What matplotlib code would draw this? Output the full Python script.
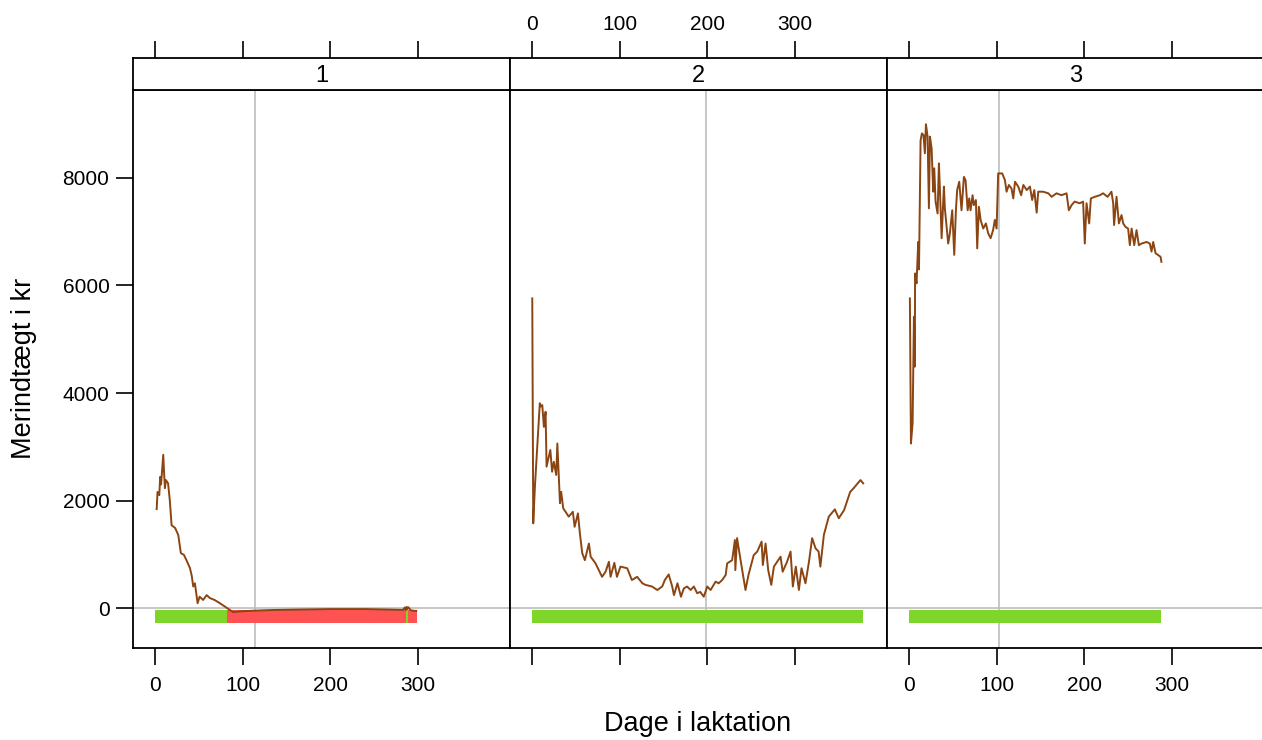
import matplotlib
matplotlib.use('Agg')
from matplotlib import pyplot as plt

plt.rcParams['font.family'] = ['Liberation Sans', 'DejaVu Sans']

# panel 1
days1 = [2, 3, 5, 6, 7, 9.5, 10.5, 11.4, 12.5, 15, 17, 19, 23, 26.6, 29.6, 33, 36, 40, 42,
         43.7, 45.6, 48.7, 51, 55, 59, 62.7, 68, 74, 80, 85.5, 89, 100, 120, 135, 160, 200,
         240, 270, 283, 285, 286, 287, 288, 289, 292, 298]
gain1 = [1840, 2160, 2100, 2440, 2300, 2850, 2500, 2230, 2380, 2320, 2000, 1540, 1490, 1360,
         1020, 990, 890, 740, 600, 400, 460, 90, 210, 150, 240, 185, 150, 90, 25, -37, -75,
         -60, -45, -37, -30, -20, -20, -30, -35, 10, -40, 20, -20, 15, -45, -55]

# panel 2
days2 = [0.4, 1.5, 3.4, 9, 10, 11.8, 13.7, 15.6, 16.7, 21, 23, 25, 27.7, 29, 32, 33.4, 35.7,
         42, 46.7, 48.7, 52.5, 54.7, 57.4, 60.4, 65, 67, 72.6, 80, 84, 87.8, 89.7, 94, 97,
         101, 108.7, 114, 120, 126, 129.6, 137, 143, 148.6, 151.6, 156, 160, 162, 166, 170,
         173.3, 177, 181, 184.7, 188.5, 192, 196, 200, 203.8, 209.5, 213, 217, 221, 222.7,
         228.4, 231.5, 232, 234, 238, 243.6, 247, 253, 257, 262, 263.4, 266.5, 269.5, 273,
         276, 283.6, 286, 291, 295, 297.6, 301, 304.5, 307.5, 312, 316, 319.6, 323.5, 327,
         329, 333, 338.6, 345.5, 350, 356, 363, 367, 374.7, 377.8]
gain2 = [5760, 1575, 2256, 3810, 3750, 3775, 3370, 3650, 2630, 2940, 2535, 2720, 2475, 3060,
         1950, 2160, 1855, 1700, 1790, 1510, 1760, 1390, 1020, 890, 1200, 955, 830, 580, 675,
         860, 580, 840, 580, 770, 740, 520, 580, 460, 430, 400, 335, 400, 520, 625, 400, 240,
         460, 210, 365, 400, 335, 400, 275, 300, 210, 400, 335, 490, 460, 520, 615, 830, 890,
         1265, 705, 1300, 890, 335, 615, 985, 1050, 1235, 800, 1200, 705, 430, 770, 955, 675,
         860, 1050, 400, 770, 335, 740, 460, 860, 1300, 1110, 1050, 770, 1360, 1700, 1835,
         1670, 1820, 2160, 2230, 2380, 2320]

# panel 3
days3 = [1.1, 2.3, 4.2, 5.7, 6.8, 7, 8.7, 10.6, 11.5, 13.3, 14.8, 16.6, 18.2, 19.4, 21.3,
         22.8, 24, 25.9, 27.7, 28.9, 30.4, 32.7, 34.2, 35.3, 37.3, 39.9, 41, 44.8, 46.7,
         49.4, 51.7, 53.6, 55, 57.4, 60, 62.7, 64.6, 67, 68.8, 70.3, 72.6, 74, 76.4, 77.9,
         79.8, 81.8, 84.8, 87.8, 90.4, 93.2, 96, 98, 100, 101.8, 106.4, 109.5, 111.4, 114,
         117, 119, 121, 124.7, 128, 130.5, 134.4, 138, 140.6, 143, 145.7, 147.5, 153, 159,
         162.7, 168.4, 174, 179.8, 182.4, 185.5, 189, 194.8, 198.7, 200.6, 202.6, 205.6,
         207.5, 212, 217.8, 221.5, 226.6, 231, 233, 234, 236.8, 239.5, 242.5, 244.4, 247,
         250, 252, 254, 257, 259.6, 262.3, 265.3, 271, 274.8, 276.7, 278.6, 281.3, 284.3,
         287, 288]
gain3 = [5760, 3060, 3435, 5420, 4490, 6225, 6040, 6810, 6300, 8700, 8830, 8800, 8460, 9000,
         8770, 7435, 8770, 8550, 7745, 8180, 7560, 7340, 8270, 7810, 6880, 7840, 7435, 6780,
         6970, 7400, 6570, 7400, 7775, 7930, 7400, 8020, 7960, 7400, 7620, 7400, 7680, 7495,
         7590, 6690, 7465, 7217, 7060, 7155, 6970, 6880, 7030, 7220, 7060, 8085, 8085, 7960,
         7745, 7870, 7805, 7620, 7930, 7840, 7680, 7870, 7775, 7840, 7590, 7775, 7355, 7745,
         7745, 7715, 7650, 7715, 7680, 7715, 7400, 7495, 7560, 7530, 7560, 6780, 7530, 7155,
         7620, 7650, 7680, 7715, 7650, 7745, 7530, 7125, 7650, 7155, 7310, 7155, 7090, 7060,
         6750, 7060, 6750, 7030, 6750, 6780, 6810, 6780, 6630, 6810, 6600, 6565, 6535, 6440]

# status segments below zero line (start day, end day, colour)
seg1 = [(0, 82, 'g'), (82, 286, 'r'), (286, 289, 'g'), (289, 299, 'r')]
seg2 = [(0, 378, 'g')]
seg3 = [(0, 288, 'g')]

ref_day = [114, 198, 103]

panels = ['1', '2', '3']
days = [days1, days2, days3]
gains = [gain1, gain2, gain3]
segs = [seg1, seg2, seg3]
colors = {'g': '#7ED62A', 'r': '#FF5252'}

W, H = 1262, 740
fig = plt.figure(figsize=(W / 100, H / 100), dpi=100)

left, pw = 133, 377
top_p, bot_p = 90, 648
strip_top = 58

for i in range(3):
    x0 = left + i * pw
    ax = fig.add_axes([x0 / W, 1 - bot_p / H, pw / W, (bot_p - top_p) / H])
    st = fig.add_axes([x0 / W, 1 - top_p / H, pw / W, (top_p - strip_top) / H], sharex=ax)

    ax.axhline(0, color='#BEBEBE', lw=1.2, zorder=1)
    ax.axvline(ref_day[i], color='#BEBEBE', lw=1.2, zorder=1)
    for s, e, c in segs[i]:
        ax.bar(s, -240, width=e - s, bottom=-40, align='edge', color=colors[c], lw=0, zorder=2)
    ax.plot(days[i], gains[i], color='#8B4513', lw=1.4, zorder=3)

    ax.set_xlim(-25, 405)
    ax.set_ylim(-744, 9637)
    ax.set_xticks([0, 100, 200, 300])
    ax.set_yticks([0, 2000, 4000, 6000, 8000])
    ax.tick_params(axis='x', direction='out', length=12, width=1.2, labelsize=15, pad=8)
    ax.tick_params(axis='y', direction='out', length=12, width=1.2, labelsize=15, pad=5)
    if i == 1:
        ax.tick_params(axis='x', labelbottom=False)
    if i > 0:
        ax.tick_params(axis='y', left=False, labelleft=False)
    for sp in ax.spines.values():
        sp.set_linewidth(1.3)

    st.set_facecolor('white')
    st.set_yticks([])
    st.xaxis.tick_top()
    st.tick_params(axis='x', direction='out', length=12, width=1.2, labelsize=15, pad=5,
                   labeltop=(i == 1))
    st.text(0.5, 0.45, panels[i], transform=st.transAxes, ha='center', va='center', fontsize=17)
    for sp in st.spines.values():
        sp.set_linewidth(1.3)

fig.text(698 / W, 1 - 724 / H, 'Dage i laktation', ha='center', va='center', fontsize=19.5)
fig.text(24 / W, 1 - 368 / H, 'Merindtægt i kr', ha='center', va='center', rotation=90, fontsize=19.5)

fig.savefig('out.png', dpi=100)
